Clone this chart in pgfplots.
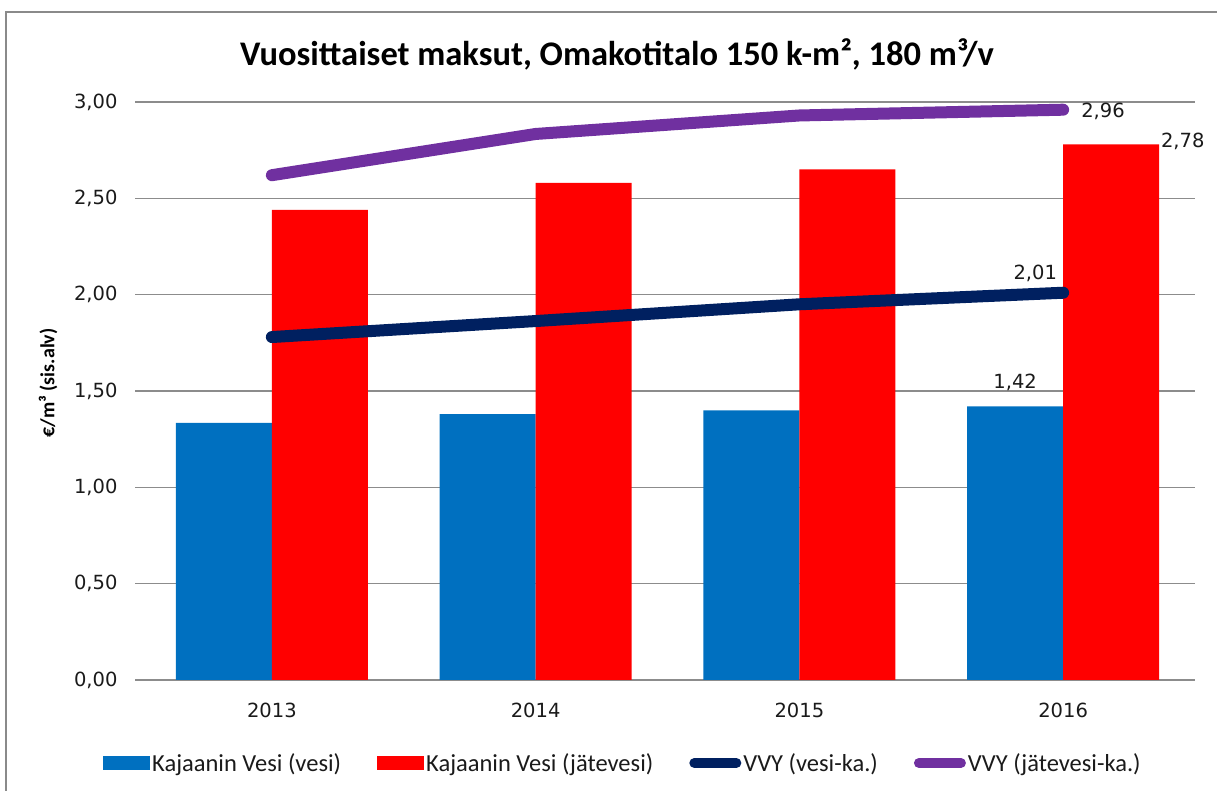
\documentclass[border=0pt]{standalone}
\usepackage{fontspec}
\setmainfont{Carlito}
\newfontfamily\dejavu{DejaVu Sans}
\usepackage{pgfplots}
\pgfplotsset{compat=1.18}
\definecolor{cblue}{HTML}{0070C0}
\definecolor{cred}{HTML}{FF0000}
\definecolor{cnavy}{HTML}{002060}
\definecolor{cpurple}{HTML}{7030A0}
\definecolor{gridgray}{HTML}{8C8C8C}
\definecolor{framegray}{HTML}{8A8A8A}
\definecolor{txt}{HTML}{1A1A1A}
\begin{document}
\begin{tikzpicture}[x=1pt,y=1pt]
\useasboundingbox (0,0) rectangle (1217,791);
\draw[color=framegray, line width=2.2pt] (6,-5) -- (6,779) -- (1225,779);
\node[font=\bfseries\fontsize{34.5}{40}\selectfont, text=black] at (617,737) {Vuosittaiset maksut, Omakotitalo 150 k-m², 180 m³/v};
\node[rotate=90, font=\bfseries\fontsize{20}{24}\selectfont, text=black] at (48,408) {€/m³ (sis.alv)};
\begin{axis}[
  at={(140pt,111pt)}, anchor=south west, scale only axis,
  width=1055pt, height=578pt,
  xmin=-0.5, xmax=3.5, ymin=0, ymax=3,
  clip=false,
  xtick={0,1,2,3}, xticklabels={2013,2014,2015,2016},
  ytick={0,0.5,1,1.5,2,2.5,3},
  yticklabels={{0,00},{0,50},{1,00},{1,50},{2,00},{2,50},{3,00}},
  ymajorgrids, grid style={color=gridgray, line width=1.2pt},
  axis x line*=bottom, axis y line*=left,
  y axis line style={draw=none},
  x axis line style={color=gridgray, line width=1.8pt, -},
  x tick style={draw=none},
  y tick style={color=gridgray, line width=1.2pt},
  major tick length=5pt, tick align=outside,
  tick label style={font=\dejavu\fontsize{19.5}{23}\selectfont, text=txt},
  xticklabel style={yshift=-14pt},
  yticklabel style={xshift=-14pt},
  legend columns=4,
  legend cell align=left,
  legend style={at={(-0.0379,-0.1436)}, anchor=west, draw=none, fill=none,
    font=\fontsize{24.5}{29}\selectfont, text=txt,
    /tikz/every even column/.append style={column sep=34pt}},
]
\addplot[ybar, bar width=96pt, bar shift=-48pt, fill=cblue, draw=none,
  legend image code/.code={\fill[cblue] (0pt,-7pt) rectangle (47pt,7pt);}]
  coordinates {(0,1.334) (1,1.38) (2,1.40) (3,1.42)};
\addlegendentry{Kajaanin Vesi (vesi)}
\addplot[ybar, bar width=96pt, bar shift=48pt, fill=cred, draw=none,
  legend image code/.code={\fill[cred] (0pt,-7pt) rectangle (47pt,7pt);}]
  coordinates {(0,2.44) (1,2.58) (2,2.65) (3,2.78)};
\addlegendentry{Kajaanin Vesi (jätevesi)}
\addplot[cnavy, line width=12pt, line cap=round, line join=round, mark=none,
  legend image code/.code={\draw[cnavy, line width=10pt, line cap=round] (5pt,0pt) -- (47pt,0pt);}]
  coordinates {(0,1.78) (1,1.863) (2,1.95) (3,2.01)};
\addlegendentry{VVY (vesi-ka.)}
\addplot[cpurple, line width=12pt, line cap=round, line join=round, mark=none,
  legend image code/.code={\draw[cpurple, line width=10pt, line cap=round] (5pt,0pt) -- (47pt,0pt);}]
  coordinates {(0,2.62) (1,2.834) (2,2.93) (3,2.96)};
\addlegendentry{VVY (jätevesi-ka.)}
\node[anchor=base west, inner sep=0pt, xshift=18pt, yshift=-8pt, font=\dejavu\fontsize{19.5}{23}\selectfont, text=txt] at (axis cs:3,2.96) {2,96};
\node[anchor=base west, inner sep=0pt, xshift=2pt, yshift=-3pt, font=\dejavu\fontsize{19.5}{23}\selectfont, text=txt] at (axis cs:3.363,2.78) {2,78};
\node[anchor=base east, inner sep=0pt, xshift=-6pt, yshift=13pt, font=\dejavu\fontsize{19.5}{23}\selectfont, text=txt] at (axis cs:3,2.01) {2,01};
\node[anchor=base, inner sep=0pt, yshift=18pt, font=\dejavu\fontsize{19.5}{23}\selectfont, text=txt] at (axis cs:2.818,1.42) {1,42};
\end{axis}
\end{tikzpicture}
\end{document}
